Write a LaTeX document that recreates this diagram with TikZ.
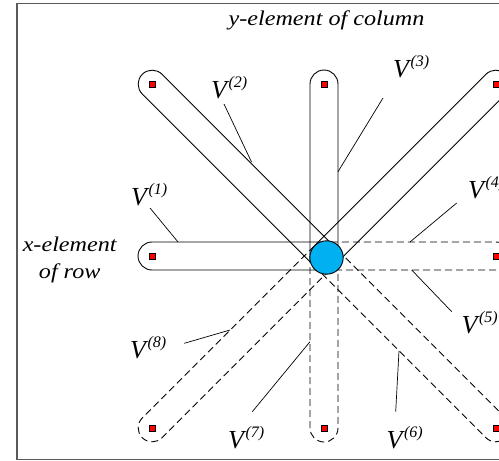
\documentclass[tikz,border=0pt]{standalone}
\usepackage{fontspec}
\setmainfont{Liberation Serif}
\newfontfamily\lblfont[FakeStretch=1.15]{Liberation Serif}
\definecolor{hubblue}{RGB}{0,176,240}
\definecolor{framegray}{RGB}{90,90,90}
\tikzset{
  capsule/.style={line width=0.9pt},
  dashcap/.style={capsule, dash pattern=on 7pt off 4pt},
  dotsq/.style={rectangle, draw=black, line width=0.4pt, fill=red, minimum size=6pt, inner sep=0pt},
  hub/.style={circle, draw=black, line width=0.9pt, fill=hubblue, minimum size=33.4pt, inner sep=0pt},
  leader/.style={line width=0.7pt},
  vlab/.style={anchor=base west, inner sep=0pt},
  txt/.style={font=\lblfont\itshape\fontsize{21}{27}\selectfont, inner sep=0pt}
}
\newcommand\drawcap[4]{% style, angle, length, name
  \begin{scope}[shift={(C)}, rotate=#2]
    \draw[#1] (0,14) -- (#3,14) arc[start angle=90, end angle=-90, radius=14] -- (0,-14);
    \node[dotsq] (#4) at (#3,0) {};
  \end{scope}}
\newcommand\Vtxt[1]{{\fontsize{26}{26}\selectfont\itshape V}\kern1.5pt\raisebox{11pt}{\fontsize{16}{16}\selectfont\itshape (#1)}}
\begin{document}
\begin{tikzpicture}[x=1pt, y=-1pt]
  \useasboundingbox (0,0) rectangle (499,461);
  \clip (0,0) rectangle (499,461);
  \draw[framegray, line width=1.3pt] (17,3.5) rectangle (560,459.5);
  \coordinate (C) at (324,256);
  % capsules
  \drawcap{capsule}{180}{172}{d1}
  \drawcap{capsule}{135}{243}{d2}
  \drawcap{capsule}{90}{172}{d3}
  \drawcap{capsule}{45}{243}{d4}
  \drawcap{dashcap}{0}{172}{d5}
  \drawcap{dashcap}{-45}{243}{d6}
  \drawcap{dashcap}{-90}{172}{d7}
  \drawcap{dashcap}{-135}{243}{d8}
  % hub
  \node[hub] (hubc) at (326.5,257.5) {};
  % titles
  \node[txt, anchor=base] (ttl) at (326.5,25) {y-element of column};
  \node[txt, align=center] (xrow) at (69.7,260) {x-element\\of row};
  % labels
  \node[vlab] (v1) at (131,205) {\Vtxt{1}};
  \node[vlab] (v2) at (211,98) {\Vtxt{2}};
  \node[vlab] (v3) at (393,77) {\Vtxt{3}};
  \node[vlab] (v4) at (468,198) {\Vtxt{4}};
  \node[vlab] (v5) at (461.5,333) {\Vtxt{5}};
  \node[vlab] (v6) at (386.5,448) {\Vtxt{6}};
  \node[vlab] (v7) at (228,448) {\Vtxt{7}};
  \node[vlab] (v8) at (130,358) {\Vtxt{8}};
  % leader endpoints
  \coordinate (a1) at (150,208);   \coordinate (b1) at (178,242);
  \coordinate (a2) at (224,104);   \coordinate (b2) at (251.5,162);
  \coordinate (a3) at (383,98);    \coordinate (b3) at (338,171.7);
  \coordinate (a4) at (456.7,203); \coordinate (b4) at (410,242);
  \coordinate (a5) at (451.7,311.7); \coordinate (b5) at (411.7,270);
  \coordinate (a6) at (395.7,411.7); \coordinate (b6) at (399,350.8);
  \coordinate (a7) at (252.3,411.7); \coordinate (b7) at (310,341.7);
  \coordinate (a8) at (184.3,343.3); \coordinate (b8) at (230,330);
  \foreach \i in {1,...,8} { \draw[leader] (a\i) -- (b\i); }
\end{tikzpicture}
\end{document}
